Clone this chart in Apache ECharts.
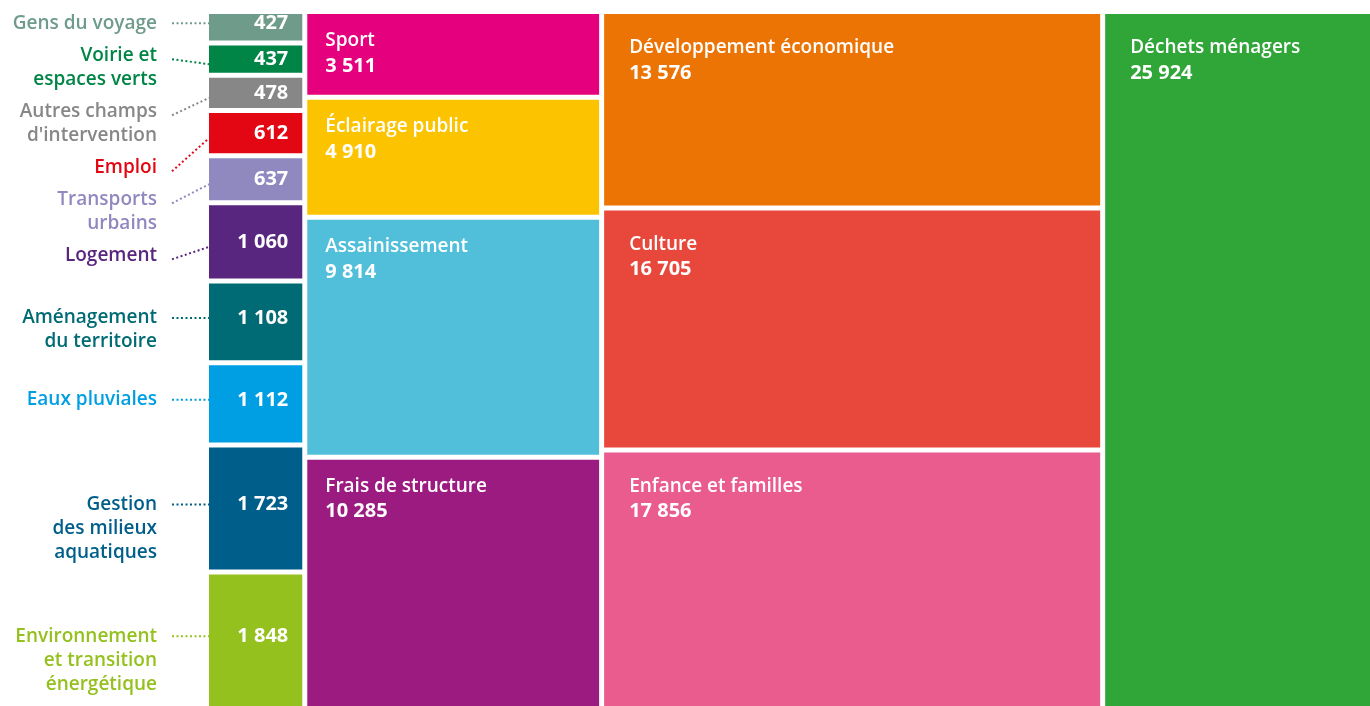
<!DOCTYPE html>
<html>
<head>
<meta charset="utf-8">
<style>
  html, body { margin: 0; padding: 0; background: #fff; }
  #main { width: 1370px; height: 706px; }
</style>
<script src="https://cdn.jsdelivr.net/npm/echarts@6/dist/echarts.min.js"></script>
</head>
<body>
<div id="main"></div>
<script>
// budget par compétence (k€) - colonnes du treemap
const categories = [
  'Gens du voyage', 'Voirie et\nespaces verts', 'Autres champs\nd\'intervention', 'Emploi',
  'Transports\nurbains', 'Logement', 'Aménagement\ndu territoire', 'Eaux pluviales',
  'Gestion\ndes milieux\naquatiques', 'Environnement\net transition\nénergétique',
  'Sport', 'Éclairage public', 'Assainissement', 'Frais de structure',
  'Développement économique', 'Culture', 'Enfance et familles',
  'Déchets ménagers'
];
const values = [427, 437, 478, 612, 637, 1060, 1108, 1112, 1723, 1848,
  3511, 4910, 9814, 10285, 13576, 16705, 17856, 25924];
const columnOf = [0, 0, 0, 0, 0, 0, 0, 0, 0, 0, 1, 1, 1, 1, 2, 2, 2, 3];
const palette = ['#6f9b8a', '#008546', '#878787', '#e30613', '#9089c0', '#59267f',
  '#006b74', '#009fe3', '#005e8a', '#95c11f', '#e5007d', '#fcc400', '#52bfda',
  '#9c1b80', '#ec7404', '#e8473b', '#ea5b8e', '#30a639'];

const FONT = '"Open Sans", "Noto Sans", sans-serif';
const GAP = 2.5;

// cumuls par colonne
let colTotals = [0, 0, 0, 0];
values.forEach((v, i) => { colTotals[columnOf[i]] += v; });
let colStart = [];
let acc = 0;
colTotals.forEach((t, c) => { colStart[c] = acc; acc += t; });
const grandTotal = acc;
let seen = [0, 0, 0, 0];
const cells = values.map((v, i) => {
  const c = columnOf[i];
  const y0 = seen[c] / colTotals[c];
  seen[c] += v;
  return [colStart[c], colStart[c] + colTotals[c], y0, seen[c] / colTotals[c], i];
});

function fmt(v) {
  return String(v).replace(/\B(?=(\d{3})+(?!\d))/g, ' ');
}

function cellRect(api, cell) {
  const a = api.coord([cell[0], cell[2]]);
  const b = api.coord([cell[1], cell[3]]);
  return {
    x: a[0] + GAP,
    y: a[1] + GAP,
    width: b[0] - a[0] - 2 * GAP,
    height: b[1] - a[1] - 2 * GAP
  };
}

// étiquettes à gauche : on décale vers le bas quand ça se chevauche
function leftLabels(api) {
  let out = [];
  let bottom = -Infinity;
  cells.forEach((cell) => {
    const i = cell[4];
    if (columnOf[i] !== 0) return;
    const r = cellRect(api, cell);
    const cy = r.y + r.height / 2;
    const lines = categories[i].split('\n').length;
    let first = cy - 4;
    const minFirst = bottom + 8 + 12;
    const shifted = first < minFirst;
    if (shifted) first = minFirst;
    bottom = first - 12 + lines * 24;
    out[i] = { first: first, shifted: shifted, cy: cy, rect: r };
  });
  return out;
}

const myChart = echarts.init(document.getElementById('main'));
myChart.setOption({
  animation: false,
  grid: {
    left: 209 - GAP,
    top: 14 - GAP,
    width: 1161 + 2 * GAP,
    height: 692 + 2 * GAP,
    outerBoundsMode: 'none'
  },
  xAxis: { type: 'value', min: 0, max: grandTotal, show: false },
  yAxis: { type: 'value', min: 0, max: 1, inverse: true, show: false },
  series: [
    {
      type: 'custom',
      encode: { x: [0, 1], y: [2, 3] },
      data: cells,
      renderItem: function (params, api) {
        const i = api.value(4);
        const c = columnOf[i];
        const r = cellRect(api, cells[i]);
        const color = palette[i];
        let children = [{ type: 'rect', shape: r, style: { fill: color } }];
        if (c === 0) {
          const lab = leftLabels(api)[i];
          const yLeft = lab.shifted ? lab.first + 4 : lab.first;
          const yRight = lab.shifted ? lab.cy + 5 : lab.first;
          children.push({
            type: 'text',
            style: {
              text: fmt(values[i]),
              x: r.x + r.width - 14,
              y: lab.shifted ? lab.cy : lab.first,
              align: 'right',
              verticalAlign: 'middle',
              fill: '#fff',
              font: 'bold 20px ' + FONT
            }
          });
          children.push({
            type: 'text',
            style: {
              text: categories[i],
              x: r.x - 52,
              y: lab.first - 12,
              align: 'right',
              verticalAlign: 'top',
              lineHeight: 24,
              fill: color,
              font: '600 19px ' + FONT
            }
          });
          children.push({
            type: 'line',
            shape: { x1: r.x - 37, y1: yLeft, x2: r.x, y2: yRight },
            style: { stroke: color, lineWidth: 2, lineDash: [2, 2.5] }
          });
        } else {
          const padX = c === 1 ? 18 : 25;
          const padY = c === 1 ? 27 : 34;
          children.push({
            type: 'text',
            style: {
              text: categories[i],
              x: r.x + padX,
              y: r.y + padY,
              verticalAlign: 'middle',
              fill: '#fff',
              font: '600 19px ' + FONT
            }
          });
          children.push({
            type: 'text',
            style: {
              text: fmt(values[i]),
              x: r.x + padX,
              y: r.y + padY + 25,
              verticalAlign: 'middle',
              fill: '#fff',
              font: 'bold 20px ' + FONT
            }
          });
        }
        return { type: 'group', children: children };
      }
    }
  ]
});
window.addEventListener('resize', () => {
  myChart.resize();
});
</script>
</body>
</html>
